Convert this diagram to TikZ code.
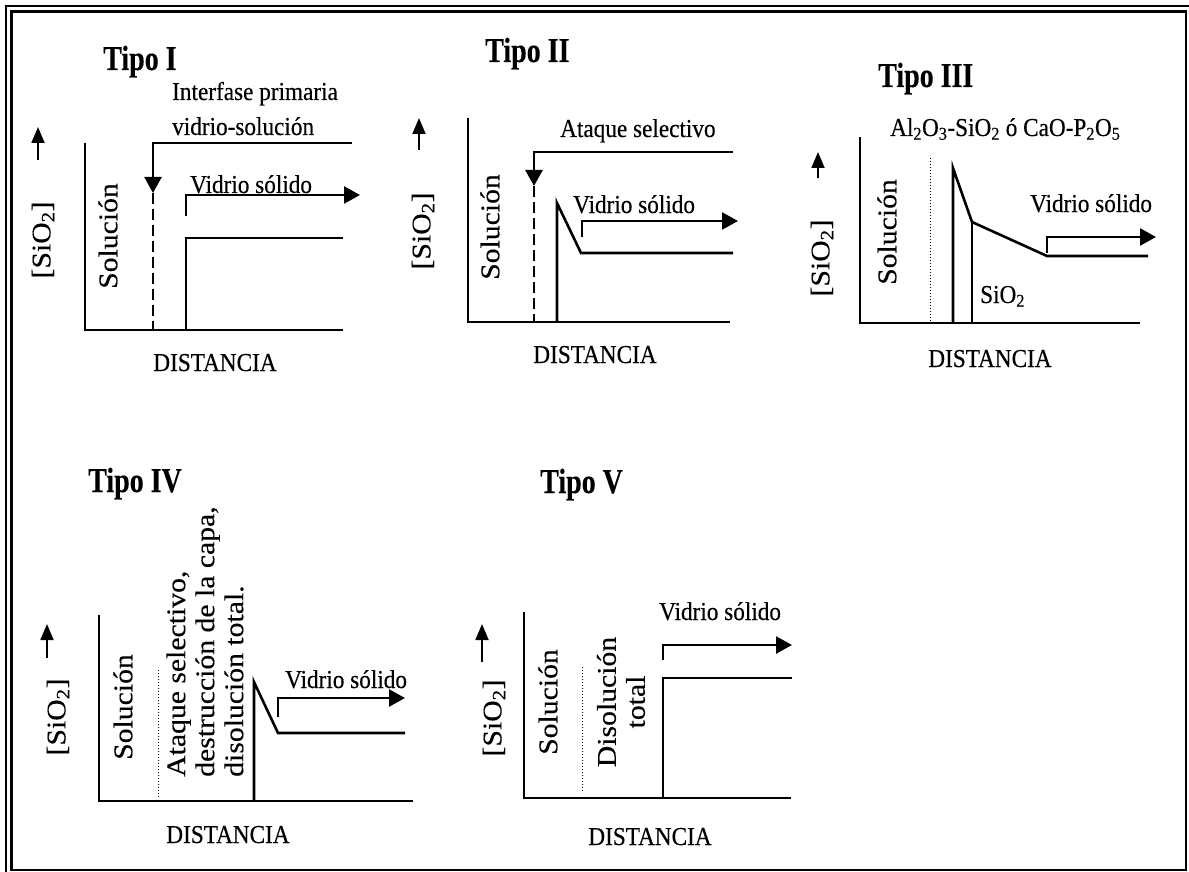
\documentclass[tikz,border=0pt]{standalone}
\usepackage{fontspec}
\setmainfont{Liberation Serif}[FakeStretch=0.9, FakeBold=0.35, BoldFeatures={FakeStretch=0.8,FakeBold=0.3}]
\newfontfamily\rotfont{Liberation Serif}[FakeStretch=1.1, FakeBold=0.3]
\usetikzlibrary{arrows.meta}
\tikzset{
  lbl/.style={font=\fontsize{25.8}{28}\selectfont, inner sep=0pt, anchor=base west},
  ctr/.style={font=\fontsize{25.8}{28}\selectfont, inner sep=0pt, anchor=base},
  ttl/.style={font=\fontsize{35}{36}\selectfont\bfseries, inner sep=0pt, anchor=base west},
  rot/.style={font=\rotfont\fontsize{27}{29}\selectfont, inner sep=0pt, rotate=90, anchor=center},
  axisline/.style={line width=2.6pt, line join=miter},
  curveline/.style={line width=2.6pt, line join=miter},
  dashline/.style={line width=2.2pt, dash pattern=on 11pt off 5pt},
  dotline/.style={line width=1pt, dash pattern=on 1.2pt off 1.8pt},
  harrow/.style={line width=2.6pt, line join=miter, -{Triangle[length=16pt,width=17pt]}},
  uparrow/.style={line width=1.8pt, -{Triangle[length=16pt,width=13pt]}},
  frameline/.style={line width=2.6pt}
}
\begin{document}
\begin{tikzpicture}[x=1pt,y=-1pt]
\useasboundingbox (0,0) rectangle (1189,872);
% frame
\draw[frameline] (6,872) -- (6,6) -- (1189,6);
\draw[frameline] (11.5,11.5) rectangle (1186,870);

% ---------- Tipo I ----------
\node[ttl] (t1) at (103,70) {Tipo I};
\node[lbl] (t1a) at (172,100) {Interfase primaria};
\node[lbl] (t1b) at (172,135) {vidrio-solución};
\node[lbl] (t1v) at (190,193) {Vidrio sólido};
\node[ctr] (t1d) at (215,371) {DISTANCIA};
\node[rot] (t1s) at (43,240) {[SiO\textsubscript{2}]};
\node[rot] (t1sol) at (108,236) {Solución};
\draw[uparrow] (38,160) -- (38,127);
\draw[axisline] (85,143) -- (85,330) -- (343,330);
\draw[harrow] (352,143) -- (153,143) -- (153,193);
\draw[dashline] (153,193) -- (153,330);
\draw[curveline] (186,330) -- (186,238) -- (343,238);
\draw[harrow] (186,216) -- (186,195) -- (360,195);

% ---------- Tipo II ----------
\node[ttl] (t2) at (485,62) {Tipo II};
\node[lbl] (t2a) at (560,137) {Ataque selectivo};
\node[lbl] (t2v) at (573,213) {Vidrio sólido};
\node[ctr] (t2d) at (595,363) {DISTANCIA};
\node[rot] (t2s) at (423,231) {[SiO\textsubscript{2}]};
\node[rot] (t2sol) at (490,227) {Solución};
\draw[uparrow] (419,150) -- (419,118);
\draw[axisline] (468,118) -- (468,322) -- (730,322);
\draw[harrow] (733,152) -- (534,152) -- (534,186);
\draw[dashline] (534,186) -- (534,322);
\draw[curveline] (557,322) -- (557,203) -- (581,253) -- (733,253);
\draw[harrow] (582,237) -- (582,221) -- (738,221);

% ---------- Tipo III ----------
\node[ttl] (t3) at (878,87) {Tipo III};
\node[lbl] (t3a) at (890,136) {Al\textsubscript{2}O\textsubscript{3}-SiO\textsubscript{2} ó CaO-P\textsubscript{2}O\textsubscript{5}};
\node[lbl] (t3v) at (1030,212) {Vidrio sólido};
\node[lbl] (t3si) at (980,303) {SiO\textsubscript{2}};
\node[ctr] (t3d) at (990,367) {DISTANCIA};
\node[rot] (t3s) at (822,258) {[SiO\textsubscript{2}]};
\node[rot] (t3sol) at (887,232) {Solución};
\draw[uparrow] (818,178) -- (818,152);
\draw[axisline] (860,137) -- (860,323) -- (1140,323);
\draw[dotline] (930,158) -- (930,323);
\draw[curveline] (953,323) -- (953,168) -- (972,222) -- (1047,256) -- (1148,256);
\draw[curveline] (972,222) -- (972,323);
\draw[harrow] (1047,253) -- (1047,237) -- (1156,237);

% ---------- Tipo IV ----------
\node[ttl] (t4) at (88,492) {Tipo IV};
\node[rot] (t4s) at (58,717) {[SiO\textsubscript{2}]};
\node[rot] (t4sol) at (123,707) {Solución};
\node[rot, anchor=west, align=left] (t4txt) at (205,777) {Ataque selectivo,\\destrucción de la capa,\\disolución total.};
\node[lbl] (t4v) at (285,688) {Vidrio sólido};
\node[ctr] (t4d) at (228,843) {DISTANCIA};
\draw[uparrow] (47,658) -- (47,624);
\draw[axisline] (99,615) -- (99,801) -- (413,801);
\draw[dotline] (158,670) -- (158,797);
\draw[curveline] (254,801) -- (254,682) -- (278,733) -- (405,733);
\draw[harrow] (278,717) -- (278,698) -- (405,698);

% ---------- Tipo V ----------
\node[ttl] (t5) at (540,493) {Tipo V};
\node[rot] (t5s) at (494,718) {[SiO\textsubscript{2}]};
\node[rot] (t5sol) at (548,702) {Solución};
\node[rot, align=center] (t5dt) at (621,702) {Disolución\\total};
\node[lbl] (t5v) at (659,620) {Vidrio sólido};
\node[ctr] (t5d) at (650,845) {DISTANCIA};
\draw[uparrow] (482,662) -- (482,624);
\draw[axisline] (524,612) -- (524,798) -- (791,798);
\draw[dotline] (582,667) -- (582,793);
\draw[curveline] (663,798) -- (663,678) -- (792,678);
\draw[harrow] (663,660) -- (663,645) -- (792,645);
\end{tikzpicture}
\end{document}
